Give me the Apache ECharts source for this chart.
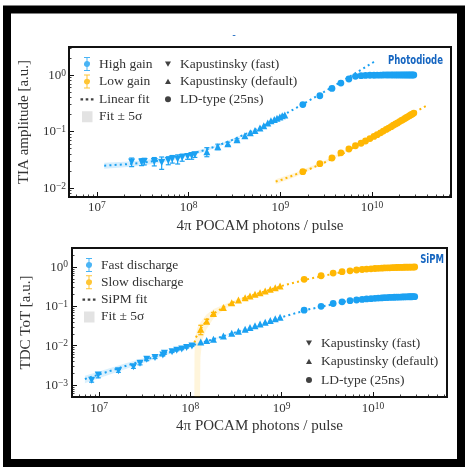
<!DOCTYPE html>
<html><head><meta charset="utf-8">
<script src="https://cdn.jsdelivr.net/npm/echarts@6/dist/echarts.min.js"></script>
<style>html,body{margin:0;padding:0;background:#fff}#c{width:474px;height:469px}</style>
</head><body><div id="c"></div>
<script>
// ================= DATA (x: 4π POCAM photons / pulse, y: a.u.) =================
// ---- Photodiode panel ----
const pdFastX = [2.39e7, 3.07e7, 3.28e7, 4.22e7, 5.08e7, 6.0e7, 6.63e7, 7.59e7, 8.5e7, 9.75e7, 1.08e8, 1.17e8];
const pdFastHigh = [0.0289, 0.0289, 0.0296, 0.0296, 0.0284, 0.0308, 0.0326, 0.0326, 0.0348, 0.0362, 0.0373, 0.0388];
const pdFastHighErr = [0.005, 0.004, 0.004, 0.005, 0.007, 0.005, 0.005, 0.006, 0.005, 0.004, 0.005, 0.004];
const pdDefX = [1.58e8, 2.08e8, 2.68e8, 3.37e8, 4.11e8, 4.7e8, 5.3e8, 6.0e8, 6.6e8, 7.3e8, 7.9e8, 8.6e8, 9.2e8, 9.9e8, 1.05e9, 1.12e9];
const pdDefHigh = [0.0438, 0.0537, 0.0607, 0.0714, 0.084, 0.095, 0.104, 0.115, 0.126, 0.141, 0.155, 0.164, 0.172, 0.180, 0.190, 0.197];
const pdDefHighErr = [0.008, 0.006, 0.004, 0.003, 0, 0, 0, 0, 0, 0, 0, 0, 0, 0, 0, 0];
const ldX = [1.76e9, 2.70e9, 3.66e9, 4.58e9, 5.6e9, 6.6e9, 7.6e9, 8.5e9, 9.5e9, 1.05e10, 1.14e10, 1.24e10, 1.33e10, 1.43e10, 1.52e10, 1.62e10, 1.71e10, 1.81e10, 1.90e10, 2.00e10, 2.10e10, 2.19e10, 2.29e10, 2.38e10, 2.48e10, 2.57e10, 2.67e10, 2.76e10, 2.86e10];
const pdLDHigh = [0.30, 0.43, 0.58, 0.72, 0.85, 0.95, 0.975, 0.985, 0.99, 0.99, 0.995, 0.995, 1.0, 1.0, 1.0, 1.0, 1.0, 1.0, 1.0, 1.0, 1.0, 1.0, 1.0, 1.0, 1.0, 1.0, 1.0, 1.0, 1.0];
const pdLDLow = [0.0195, 0.027, 0.034, 0.042, 0.049, 0.056, 0.062, 0.068, 0.075, 0.082, 0.088, 0.095, 0.102, 0.109, 0.115, 0.122, 0.129, 0.136, 0.142, 0.150, 0.157, 0.163, 0.170, 0.177, 0.184, 0.191, 0.198, 0.204, 0.212];
// linear fits
const pdHighFitX = [1.2e7, 2e7, 3e7, 5e7, 7e7, 1e8, 1.5e8, 2e8, 3e8, 5e8, 7e8, 1e9, 1.5e9, 2e9, 3e9, 5e9, 7e9, 1.07e10];
const pdHighFitY = [0.0249, 0.0262, 0.0278, 0.031, 0.0342, 0.039, 0.047, 0.055, 0.071, 0.103, 0.135, 0.183, 0.263, 0.343, 0.503, 0.823, 1.143, 1.735];
const pdLowFitX = [8.9e8, 1e9, 2e9, 3e9, 5e9, 7e9, 1e10, 1.5e10, 2e10, 3e10, 3.9e10];
const pdLowFitY = [0.013, 0.0137, 0.021, 0.028, 0.042, 0.057, 0.079, 0.115, 0.151, 0.223, 0.285];
// ±5σ bands
const pdHighBandX = [1.2e7, 2e7, 3e7, 5e7, 7e7, 1e8, 1.5e8, 2e8, 3e8, 5e8];
const pdHighBandLo = [0.0219, 0.0232, 0.0248, 0.028, 0.0312, 0.036, 0.044, 0.052, 0.068, 0.100];
const pdHighBandHi = [0.0279, 0.0292, 0.0308, 0.034, 0.0372, 0.042, 0.050, 0.058, 0.074, 0.106];
const pdLowBandX = [8.9e8, 1.5e9, 3e9, 6e9];
const pdLowBandLo = [0.0117, 0.016, 0.027, 0.049];
const pdLowBandHi = [0.0143, 0.019, 0.030, 0.053];

// ---- SiPM panel ----
const sipmFastX = [8.3e6, 9.8e6, 1.63e7, 2.38e7, 2.81e7, 3.33e7, 4.1e7, 5.0e7, 5.2e7, 6.3e7, 7.1e7, 8.05e7, 9.1e7, 1.04e8];
const sipmFastFast = [1.33e-3, 1.79e-3, 2.30e-3, 2.90e-3, 3.55e-3, 4.5e-3, 5.0e-3, 5.8e-3, 6.4e-3, 7.0e-3, 7.7e-3, 8.2e-3, 9.0e-3, 9.8e-3];
const sipmFastFastErr = [1.5e-4, 2.7e-4, 2e-4, 2.5e-4, 3e-4, 3.5e-4, 3e-4, 3e-4, 3e-4, 3e-4, 3e-4, 3e-4, 3e-4, 3e-4];
const sipmDefX = [1.30e8, 1.51e8, 1.79e8, 2.3e8, 2.84e8, 3.36e8, 3.98e8, 4.5e8, 5.1e8, 5.8e8, 6.6e8, 7.5e8, 8.5e8, 9.6e8];
const sipmDefFast = [0.0124, 0.0135, 0.0145, 0.0175, 0.0208, 0.0233, 0.0262, 0.0289, 0.0322, 0.0358, 0.0395, 0.0435, 0.048, 0.0525];
const sipmDefSlow = [0.026, 0.042, 0.066, 0.094, 0.124, 0.145, 0.166, 0.183, 0.202, 0.222, 0.245, 0.271, 0.297, 0.33];
const sipmDefSlowErr = [0.007, 0.005, 0.004, 0, 0, 0, 0, 0, 0, 0, 0, 0, 0, 0];
const sipmLDFast = [0.080, 0.100, 0.118, 0.130, 0.139, 0.145, 0.150, 0.154, 0.157, 0.160, 0.162, 0.164, 0.166, 0.167, 0.168, 0.169, 0.170, 0.171, 0.172, 0.172, 0.173, 0.173, 0.174, 0.174, 0.175, 0.175, 0.175, 0.176, 0.176];
const sipmLDSlow = [0.486, 0.60, 0.70, 0.76, 0.80, 0.84, 0.865, 0.885, 0.90, 0.915, 0.925, 0.935, 0.945, 0.95, 0.955, 0.96, 0.965, 0.97, 0.975, 0.978, 0.981, 0.984, 0.987, 0.99, 0.992, 0.994, 0.996, 0.998, 1.0];
// SiPM fits
const sipmFastFitX = [7e6, 1e7, 2e7, 5e7, 1e8, 2e8, 5e8, 1e9, 2e9, 5e9, 1e10, 2e10, 2.9e10];
const sipmFastFitY = [1.42e-3, 1.85e-3, 3.1e-3, 6.0e-3, 9.8e-3, 0.0158, 0.0305, 0.053, 0.084, 0.132, 0.158, 0.171, 0.176];
const sipmSlowFitX = [1.11e8, 1.15e8, 1.22e8, 1.3e8, 1.5e8, 1.8e8, 2.3e8, 3e8, 4e8, 6e8, 1e9, 2e9, 5e9, 1e10, 2e10, 2.9e10];
const sipmSlowFitY = [0.012, 0.016, 0.021, 0.027, 0.043, 0.065, 0.094, 0.128, 0.167, 0.226, 0.33, 0.50, 0.78, 0.91, 0.975, 1.0];
const sipmFastBandX = [7e6, 1e7, 2e7, 5e7, 1e8, 2e8, 5e8, 1e9];
const sipmFastBandLo = [1.11e-3, 1.48e-3, 2.6e-3, 5.4e-3, 9.3e-3, 0.0153, 0.0299, 0.0522];
const sipmFastBandHi = [1.73e-3, 2.22e-3, 3.6e-3, 6.6e-3, 0.0103, 0.0163, 0.0311, 0.0538];
const sipmSlowBandUpX = [1.105e8, 1.11e8, 1.13e8, 1.2e8, 1.3e8, 1.5e8, 1.8e8, 2.3e8, 3e8, 4e8, 6e8];
const sipmSlowBandUpY = [5.02e-4, 0.006, 0.016, 0.030, 0.040, 0.062, 0.085, 0.110, 0.140, 0.178, 0.235];
const sipmSlowBandLoX = [6e8, 4e8, 3e8, 2.3e8, 1.8e8, 1.5e8, 1.35e8, 1.29e8, 1.276e8];
const sipmSlowBandLoY = [0.217, 0.156, 0.116, 0.080, 0.050, 0.026, 0.014, 0.005, 5.02e-4];

// tick decades
const pdXTicks = [7, 8, 9, 10];
const pdYTicks = [-2, -1, 0];
const sipmXTicks = [7, 8, 9, 10];
const sipmYTicks = [-3, -2, -1, 0];

// ================= STYLE =================
const BLUE = '#1ba1f2', ORANGE = '#ffb703', TXT = '#333';
const SERIF = '"Liberation Serif","DejaVu Serif",serif';
const L = Math.log10;
const pts = (xs, ys) => xs.map((x, i) => [L(x), L(ys[i])]);
const errPts = (xs, ys, es) => { const o = []; xs.forEach((x, i) => { if (es[i] > 0) o.push([L(x), L(ys[i] - es[i]), L(ys[i] + es[i])]); }); return o; };
const bandPoly = (xs, lo, hi) => pts(xs, hi).concat(pts(xs, lo).reverse());
function minors(lo, hi) { const m = []; for (let n = Math.floor(lo); n <= Math.ceil(hi); n++) for (let k = 2; k <= 9; k++) { const v = n + L(k); if (v > lo && v < hi) m.push(v); } return m; }

const rich = {
  b: { fontFamily: SERIF, fontSize: 13, color: TXT, verticalAlign: 'bottom', lineHeight: 14 },
  s: { fontFamily: SERIF, fontSize: 9.5, color: TXT, verticalAlign: 'top', lineHeight: 10, padding: [0, 0, 7, 0] }
};
const supFmt = v => { const n = Math.round(v); return '{b|10}{s|' + (n < 0 ? '\u2212' + (-n) : n) + '}'; };

function axesPair(dim, gi, min, max, ticks, name, nameGap, margin) {
  const isY = dim === 'y';
  const major = {
    gridIndex: gi, type: 'value', min, max, position: isY ? 'left' : 'bottom',
    axisLine: { show: false, onZero: false }, splitLine: { show: false },
    axisTick: { inside: true, length: 5, lineStyle: { color: '#111', width: 1 }, customValues: ticks },
    axisLabel: { customValues: ticks, formatter: supFmt, rich, margin, align: isY ? 'right' : 'center' },
    name, nameLocation: 'middle', nameGap, nameRotate: isY ? 90 : 0,
    nameTextStyle: { fontFamily: SERIF, fontSize: 15, color: TXT }
  };
  const minor = {
    gridIndex: gi, type: 'value', min, max, position: isY ? 'left' : 'bottom',
    axisLine: { show: false, onZero: false }, splitLine: { show: false }, axisLabel: { show: false },
    axisTick: { inside: true, length: 2.5, lineStyle: { color: '#111', width: 0.8 }, customValues: minors(min, max) }
  };
  return [major, minor];
}

const PD = { xMin: 6.695, xMax: 10.862, yMin: -2.159, yMax: 0.496 };
const SP = { xMin: 6.704, xMax: 10.81, yMin: -3.305, yMax: 0.483 };

function scatter(gi, name, data, color, kind) {
  const s = { type: 'scatter', name, xAxisIndex: gi * 2, yAxisIndex: gi * 2, data, z: 5, silent: true,
    itemStyle: { color, opacity: 1 }, symbol: kind === 'circle' ? 'circle' : 'triangle',
    symbolSize: kind === 'circle' ? 6.8 : 7 };
  if (kind === 'down') s.symbolRotate = 180;
  return s;
}
function errSeries(gi, data, color) {
  return { type: 'custom', xAxisIndex: gi * 2, yAxisIndex: gi * 2, data, z: 4, silent: true,
    renderItem: (p, api) => {
      const a = api.coord([api.value(0), api.value(1)]), b = api.coord([api.value(0), api.value(2)]);
      const st = { stroke: color, lineWidth: 1.2 };
      return { type: 'group', children: [
        { type: 'line', shape: { x1: a[0], y1: a[1], x2: b[0], y2: b[1] }, style: st },
        { type: 'line', shape: { x1: a[0] - 2.5, y1: a[1], x2: a[0] + 2.5, y2: a[1] }, style: st },
        { type: 'line', shape: { x1: b[0] - 2.5, y1: b[1], x2: b[0] + 2.5, y2: b[1] }, style: st }
      ] };
    } };
}
function fitSeries(gi, data, color) {
  return { type: 'line', xAxisIndex: gi * 2, yAxisIndex: gi * 2, data, showSymbol: false, symbol: 'none',
    z: 3, silent: true, clip: true, lineStyle: { color, width: 2, type: [2, 3.2], cap: 'butt' } };
}
function bandSeries(gi, poly, color) {
  return { type: 'custom', xAxisIndex: gi * 2, yAxisIndex: gi * 2, data: poly, z: 1, silent: true, clip: true,
    renderItem: (p, api) => p.dataIndex !== 0 ? null :
      { type: 'polygon', shape: { points: poly.map(q => api.coord(q)) }, style: { fill: color } } };
}
const dummy = (name, color) => ({ type: 'scatter', name, xAxisIndex: 0, yAxisIndex: 0, data: [], itemStyle: { color } });

// legend icons (14x14 boxes, tiny invisible corners keep the box)
const BOX = 'M0,0h0.01v0.01h-0.01zM14,14h0.01v0.01h-0.01z';
const EB = 'path://' + BOX + 'M4,0H10V1H7.5V4.04A3,3 0 0 1 7.5,9.96V13H10V14H4V13H6.5V9.96A3,3 0 0 1 6.5,4.04V1H4Z';
const DOT = 'path://' + BOX + 'M0.5,6h2.6v2.2h-2.6zM5.7,6h2.6v2.2h-2.6zM10.9,6h2.6v2.2h-2.6z';
const RECT = 'path://' + BOX + 'M2,1.5h10.5v11h-10.5z';
const TDN = 'path://' + BOX + 'M4,4.6h6l-3,5.2z';
const TUP = 'path://' + BOX + 'M4,9.4h6l-3,-5.2z';
const CIR = 'path://' + BOX + 'M4,7a3,3 0 1,0 6,0a3,3 0 1,0 -6,0z';
const LTXT = { fontFamily: SERIF, fontSize: 13.5, color: TXT, lineHeight: 14 };
const legendBase = { orient: 'vertical', padding: 0, itemWidth: 14, itemHeight: 14, selectedMode: false, textStyle: LTXT };
const item = (name, icon) => ({ name, icon, textStyle: LTXT });

const xa = [...axesPair('x', 0, PD.xMin, PD.xMax, pdXTicks, '4\u03c0 POCAM photons / pulse', 22, 3),
            ...axesPair('x', 1, SP.xMin, SP.xMax, sipmXTicks, '4\u03c0 POCAM photons / pulse', 22, 4)];
const ya = [...axesPair('y', 0, PD.yMin, PD.yMax, pdYTicks, 'TIA amplitude [a.u.]', 36, 3),
            ...axesPair('y', 1, SP.yMin, SP.yMax, sipmYTicks, 'TDC ToT [a.u.]', 37, 4)];

const series = [
  bandSeries(0, bandPoly(pdHighBandX, pdHighBandLo, pdHighBandHi), 'rgba(27,161,242,0.18)'),
  bandSeries(0, bandPoly(pdLowBandX, pdLowBandLo, pdLowBandHi), 'rgba(255,183,3,0.15)'),
  fitSeries(0, pts(pdHighFitX, pdHighFitY), BLUE),
  fitSeries(0, pts(pdLowFitX, pdLowFitY), ORANGE),
  errSeries(0, errPts(pdFastX, pdFastHigh, pdFastHighErr), BLUE),
  errSeries(0, errPts(pdDefX, pdDefHigh, pdDefHighErr), BLUE),
  scatter(0, 'HG fast', pts(pdFastX, pdFastHigh), BLUE, 'down'),
  scatter(0, 'HG default', pts(pdDefX, pdDefHigh), BLUE, 'up'),
  scatter(0, 'HG LD', pts(ldX, pdLDHigh), BLUE, 'circle'),
  scatter(0, 'LG LD', pts(ldX, pdLDLow), ORANGE, 'circle'),

  bandSeries(1, bandPoly(sipmFastBandX, sipmFastBandLo, sipmFastBandHi), 'rgba(27,161,242,0.16)'),
  bandSeries(1, pts(sipmSlowBandUpX, sipmSlowBandUpY).concat(pts(sipmSlowBandLoX, sipmSlowBandLoY)), 'rgba(255,183,3,0.14)'),
  fitSeries(1, pts(sipmFastFitX, sipmFastFitY), BLUE),
  fitSeries(1, pts(sipmSlowFitX, sipmSlowFitY), ORANGE),
  errSeries(1, errPts(sipmFastX, sipmFastFast, sipmFastFastErr), BLUE),
  errSeries(1, errPts(sipmDefX, sipmDefSlow, sipmDefSlowErr), ORANGE),
  scatter(1, 'FD fast', pts(sipmFastX, sipmFastFast), BLUE, 'down'),
  scatter(1, 'FD default', pts(sipmDefX, sipmDefFast), BLUE, 'up'),
  scatter(1, 'SD default', pts(sipmDefX, sipmDefSlow), ORANGE, 'up'),
  scatter(1, 'FD LD', pts(ldX, sipmLDFast), BLUE, 'circle'),
  scatter(1, 'SD LD', pts(ldX, sipmLDSlow), ORANGE, 'circle'),

  dummy('High gain', BLUE), dummy('Low gain', ORANGE), dummy('Linear fit', '#111'), dummy('Fit \u00b1 5\u03c3', '#dcdcdc'),
  dummy('Kapustinsky (fast)', '#111'), dummy('Kapustinsky (default)', '#111'), dummy('LD-type (25ns)', '#111'),
  dummy('Fast discharge', BLUE), dummy('Slow discharge', ORANGE), dummy('SiPM fit', '#111')
];

const BADGE_FONT = 'bold 12.5px "Liberation Sans Narrow","DejaVu Sans Condensed","DejaVu Sans",sans-serif';
const chart = echarts.init(document.getElementById('c'), null, { renderer: 'canvas' });
chart.setOption({
  animation: false,
  backgroundColor: '#fff',
  textStyle: { fontFamily: SERIF },
  grid: [
    { left: 69, top: 47, width: 382, height: 150, show: true, borderColor: '#111', borderWidth: 2, backgroundColor: 'transparent' },
    { left: 72, top: 248, width: 375, height: 149, show: true, borderColor: '#111', borderWidth: 2, backgroundColor: 'transparent' }
  ],
  xAxis: xa, yAxis: ya,
  legend: [
    Object.assign({}, legendBase, { left: 80, top: 57, itemGap: 3.6,
      data: [item('High gain', EB), item('Low gain', EB), item('Linear fit', DOT), item('Fit \u00b1 5\u03c3', RECT)] }),
    Object.assign({}, legendBase, { left: 161, top: 57, itemGap: 3.6,
      data: [item('Kapustinsky (fast)', TDN), item('Kapustinsky (default)', TUP), item('LD-type (25ns)', CIR)] }),
    Object.assign({}, legendBase, { left: 82, top: 258, itemGap: 3.3,
      data: [item('Fast discharge', EB), item('Slow discharge', EB), item('SiPM fit', DOT), item('Fit \u00b1 5\u03c3', RECT)] }),
    Object.assign({}, legendBase, { left: 302, top: 336, itemGap: 4.5,
      data: [item('Kapustinsky (fast)', TDN), item('Kapustinsky (default)', TUP), item('LD-type (25ns)', CIR)] })
  ],
  graphic: [
    { type: 'text', z: 50, x: 443, y: 61, scaleX: 0.76, style: { text: 'Photodiode', x: 0, y: 0, align: 'right', verticalAlign: 'middle',
      font: BADGE_FONT, fill: '#1565c0' } },
    { type: 'text', z: 50, x: 444, y: 260, scaleX: 0.76, style: { text: 'SiPM', x: 0, y: 0, align: 'right', verticalAlign: 'middle',
      font: BADGE_FONT, fill: '#1565c0' } },
    { type: 'text', z: 50, style: { text: '-', x: 234, y: 35, align: 'center', verticalAlign: 'middle',
      font: '10px "DejaVu Sans",sans-serif', fill: '#1565c0' } },
    { type: 'rect', z: 60, silent: true, shape: { x: 7, y: 9.5, width: 454, height: 453.5 },
      style: { fill: 'none', stroke: '#000', lineWidth: 8 } }
  ],
  series
});
</script></body></html>
